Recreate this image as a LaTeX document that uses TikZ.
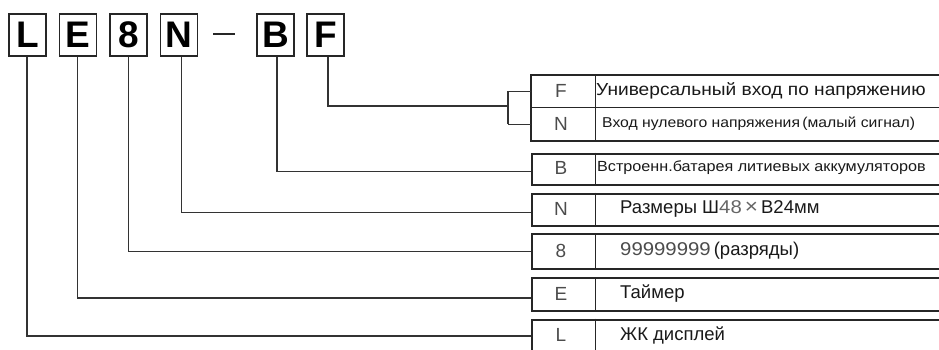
\documentclass[tikz,border=0pt]{standalone}
\usepackage{fontspec}
\setmainfont{Liberation Sans}
\newfontfamily\widefont[FakeStretch=1.1]{Liberation Sans}
\begin{document}
\begin{tikzpicture}[x=1pt,y=-1pt,
  line join=miter,
  lc/.style={draw=black!80, line width=1.1pt},
  topbox/.style={draw=black!85, line width=1.8pt, minimum width=37pt, minimum height=42pt, inner sep=0pt, font=\fontsize{37}{37}\selectfont\bfseries},
  rowbox/.style={draw=black!85, line width=2pt, anchor=north west, minimum width=420pt, inner sep=0pt},
  rowthin/.style={anchor=north west, minimum width=420pt, inner sep=0pt},
  code/.style={font=\fontsize{19}{19}\selectfont, text=black!70, inner sep=0pt},
  desc/.style={anchor=west, inner sep=0pt, text=black!90},
]
\useasboundingbox (0,0) rectangle (939,349);
\clip (0,0) rectangle (939,349);

% top code boxes
\node[topbox] (tL) at (27.5,35) {L};
\node[topbox] (tE) at (78,35) {E};
\node[topbox] (t8) at (128.5,35) {8};
\node[topbox] (tN) at (179,35) {N};
\node[topbox] (tB) at (275.5,35) {B};
\node[topbox] (tF) at (325.5,35) {F};
\coordinate (d1) at (213,34);
\coordinate (d2) at (235,34);
\draw[black!85, line width=1.8pt] (d1) -- (d2);

% right rows
\node[rowthin, minimum height=32pt] (rF) at (531,75) {};
\node[rowthin, minimum height=34pt] (rNv) at (531,107) {};
\draw[black!85, line width=1pt] (rF.south west) -- (rF.south east);
\draw[black!85, line width=2pt] (rF.north west) rectangle (rNv.south east);
\node[rowbox, minimum height=31pt] (rB) at (531,152.5) {};
\node[rowbox, minimum height=32pt] (rN) at (531,192.5) {};
\node[rowbox, minimum height=35pt] (r8) at (531,233) {};
\node[rowbox, minimum height=33pt] (rE) at (531,277) {};
\node[rowbox, minimum height=33pt] (rL) at (531,318.5) {};

% dividers
\draw[black!85, line width=1pt] ([xshift=64.5pt]rF.north west) -- ([xshift=64.5pt]rNv.south west);
\foreach \r in {rB,rN,r8,rE,rL}{
  \draw[black!85, line width=1pt] ([xshift=64.5pt]\r.north west) -- ([xshift=64.5pt]\r.south west);
}

% codes
\node[code] (cF) at (561,91) {F};
\node[code] (cN2) at (561,124) {N};
\node[code] (cB) at (561,168) {B};
\node[code] (cN) at (561,208.5) {N};
\node[code] (c8) at (561,251) {8};
\node[code] (cE) at (561,294) {E};
\node[code] (cL) at (561,335) {L};

% descriptions
\node[desc, font=\widefont\fontsize{17.4}{17.4}\selectfont] (xF) at (596,91) {Универсальный вход по напряжению};
\node[desc, font=\widefont\fontsize{14.3}{14.3}\selectfont] (xN2) at (602,124) {Вход нулевого напряжения\,(малый сигнал)};
\node[desc, font=\widefont\fontsize{14.7}{14.7}\selectfont] (xB) at (597,168) {Встроенн.батарея литиевых аккумуляторов};
\node[desc, font=\fontsize{18.5}{18.5}\selectfont] (xN) at (620,208.5) {Размеры Ш{\widefont\color{black!60}48\,{\fontsize{20.5}{20.5}\selectfont ×}\,}В24мм};
\node[desc, font=\fontsize{18.5}{18.5}\selectfont] (x8) at (620,251) {{\widefont\color{black!70}99999999}\,(разряды)};
\node[desc, font=\fontsize{18.5}{18.5}\selectfont] (xE) at (620,294) {Таймер};
\node[desc, font=\fontsize{18.5}{18.5}\selectfont] (xL) at (620,335) {ЖК дисплей};

% connectors
\coordinate (br) at (508,106);
\draw[lc] ([xshift=2.5pt]tF.south) |- (br);
\draw[lc] (br |- rF.center) -- (br |- rNv.center);
\draw[lc] (br |- rF.center) -- (rF.west);
\draw[lc] (br |- rNv.center) -- (rNv.west);
\draw[lc] ([xshift=1.5pt]tB.south) |- ([yshift=-2.5pt]rB.west);
\draw[lc] ([xshift=2.5pt]tN.south) |- ([yshift=-3pt]rN.west);
\draw[lc] (t8.south) |- (r8.west);
\draw[lc] ([xshift=-0.5pt]tE.south) |- ([yshift=-3.5pt]rE.west);
\draw[lc] ([xshift=-0.5pt]tL.south) |- (rL.west);
\end{tikzpicture}
\end{document}
